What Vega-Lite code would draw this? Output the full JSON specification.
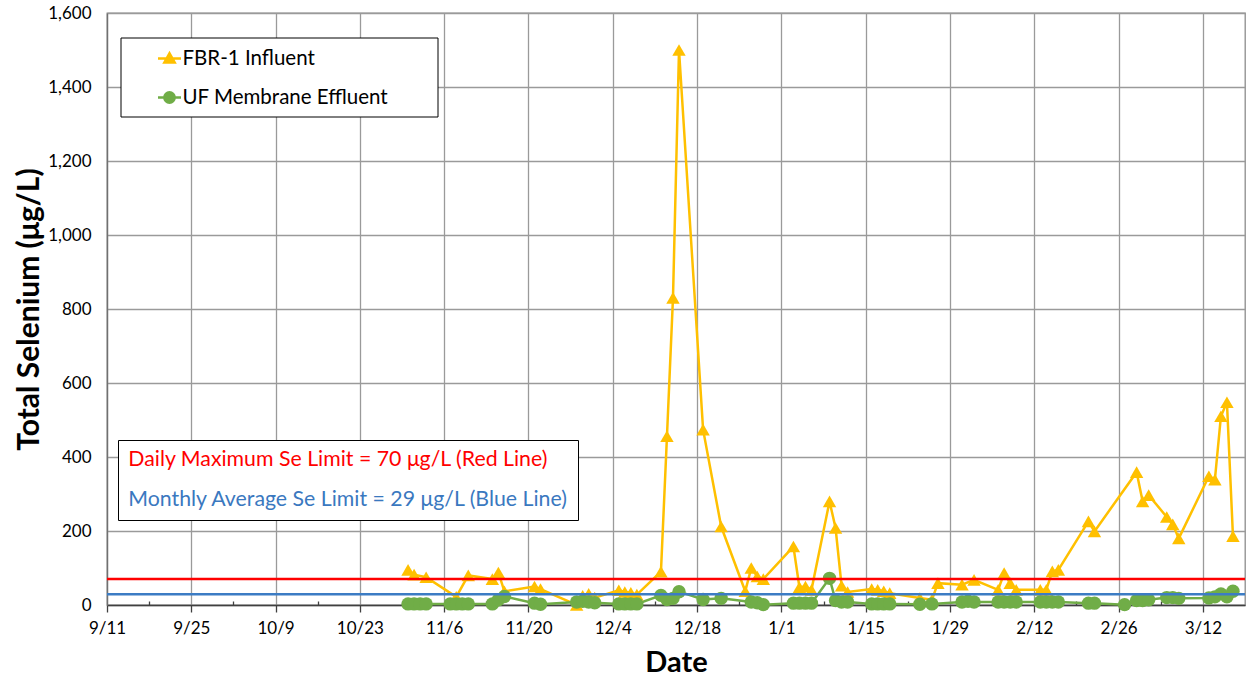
{
  "$schema": "https://vega.github.io/schema/vega-lite/v6.json",
  "width": 1138,
  "height": 592,
  "autosize": {"type": "none"},
  "padding": {"left": 107, "top": 13, "right": 2, "bottom": 72},
  "background": "white",
  "config": {
    "font": "Lato",
    "view": {"stroke": "#8c8c8c", "strokeWidth": 1.3},
    "legend": {"labelFont": "Lato"}
  },
  "datasets": {
    "se": [
      {"Series": "FBR-1 Influent", "Date": "2012-10-31", "Se": 95},
      {"Series": "FBR-1 Influent", "Date": "2012-11-01", "Se": 82},
      {"Series": "FBR-1 Influent", "Date": "2012-11-03", "Se": 75},
      {"Series": "FBR-1 Influent", "Date": "2012-11-08", "Se": 22},
      {"Series": "FBR-1 Influent", "Date": "2012-11-10", "Se": 80},
      {"Series": "FBR-1 Influent", "Date": "2012-11-14", "Se": 70},
      {"Series": "FBR-1 Influent", "Date": "2012-11-15", "Se": 88},
      {"Series": "FBR-1 Influent", "Date": "2012-11-16", "Se": 37},
      {"Series": "FBR-1 Influent", "Date": "2012-11-21", "Se": 50},
      {"Series": "FBR-1 Influent", "Date": "2012-11-22", "Se": 43},
      {"Series": "FBR-1 Influent", "Date": "2012-11-28", "Se": 0},
      {"Series": "FBR-1 Influent", "Date": "2012-11-29", "Se": 25},
      {"Series": "FBR-1 Influent", "Date": "2012-11-30", "Se": 30},
      {"Series": "FBR-1 Influent", "Date": "2012-12-01", "Se": 20},
      {"Series": "FBR-1 Influent", "Date": "2012-12-05", "Se": 40},
      {"Series": "FBR-1 Influent", "Date": "2012-12-06", "Se": 35},
      {"Series": "FBR-1 Influent", "Date": "2012-12-07", "Se": 33},
      {"Series": "FBR-1 Influent", "Date": "2012-12-08", "Se": 28},
      {"Series": "FBR-1 Influent", "Date": "2012-12-12", "Se": 90},
      {"Series": "FBR-1 Influent", "Date": "2012-12-13", "Se": 456},
      {"Series": "FBR-1 Influent", "Date": "2012-12-14", "Se": 830},
      {"Series": "FBR-1 Influent", "Date": "2012-12-15", "Se": 1500},
      {"Series": "FBR-1 Influent", "Date": "2012-12-19", "Se": 474},
      {"Series": "FBR-1 Influent", "Date": "2012-12-22", "Se": 212},
      {"Series": "FBR-1 Influent", "Date": "2012-12-26", "Se": 37},
      {"Series": "FBR-1 Influent", "Date": "2012-12-27", "Se": 100},
      {"Series": "FBR-1 Influent", "Date": "2012-12-28", "Se": 77},
      {"Series": "FBR-1 Influent", "Date": "2012-12-29", "Se": 70},
      {"Series": "FBR-1 Influent", "Date": "2013-01-03", "Se": 158},
      {"Series": "FBR-1 Influent", "Date": "2013-01-04", "Se": 48},
      {"Series": "FBR-1 Influent", "Date": "2013-01-05", "Se": 50},
      {"Series": "FBR-1 Influent", "Date": "2013-01-06", "Se": 41},
      {"Series": "FBR-1 Influent", "Date": "2013-01-09", "Se": 280},
      {"Series": "FBR-1 Influent", "Date": "2013-01-10", "Se": 208},
      {"Series": "FBR-1 Influent", "Date": "2013-01-11", "Se": 52},
      {"Series": "FBR-1 Influent", "Date": "2013-01-12", "Se": 35},
      {"Series": "FBR-1 Influent", "Date": "2013-01-16", "Se": 43},
      {"Series": "FBR-1 Influent", "Date": "2013-01-17", "Se": 41},
      {"Series": "FBR-1 Influent", "Date": "2013-01-18", "Se": 37},
      {"Series": "FBR-1 Influent", "Date": "2013-01-19", "Se": 32},
      {"Series": "FBR-1 Influent", "Date": "2013-01-24", "Se": 19},
      {"Series": "FBR-1 Influent", "Date": "2013-01-26", "Se": 14},
      {"Series": "FBR-1 Influent", "Date": "2013-01-27", "Se": 59},
      {"Series": "FBR-1 Influent", "Date": "2013-01-31", "Se": 55},
      {"Series": "FBR-1 Influent", "Date": "2013-02-02", "Se": 68},
      {"Series": "FBR-1 Influent", "Date": "2013-02-06", "Se": 41},
      {"Series": "FBR-1 Influent", "Date": "2013-02-07", "Se": 86},
      {"Series": "FBR-1 Influent", "Date": "2013-02-08", "Se": 59},
      {"Series": "FBR-1 Influent", "Date": "2013-02-09", "Se": 41},
      {"Series": "FBR-1 Influent", "Date": "2013-02-13", "Se": 41},
      {"Series": "FBR-1 Influent", "Date": "2013-02-14", "Se": 41},
      {"Series": "FBR-1 Influent", "Date": "2013-02-15", "Se": 91},
      {"Series": "FBR-1 Influent", "Date": "2013-02-16", "Se": 95},
      {"Series": "FBR-1 Influent", "Date": "2013-02-21", "Se": 226},
      {"Series": "FBR-1 Influent", "Date": "2013-02-22", "Se": 199},
      {"Series": "FBR-1 Influent", "Date": "2013-03-01", "Se": 359},
      {"Series": "FBR-1 Influent", "Date": "2013-03-02", "Se": 280},
      {"Series": "FBR-1 Influent", "Date": "2013-03-03", "Se": 297},
      {"Series": "FBR-1 Influent", "Date": "2013-03-06", "Se": 238},
      {"Series": "FBR-1 Influent", "Date": "2013-03-07", "Se": 218},
      {"Series": "FBR-1 Influent", "Date": "2013-03-08", "Se": 180},
      {"Series": "FBR-1 Influent", "Date": "2013-03-13", "Se": 348},
      {"Series": "FBR-1 Influent", "Date": "2013-03-14", "Se": 339},
      {"Series": "FBR-1 Influent", "Date": "2013-03-15", "Se": 510},
      {"Series": "FBR-1 Influent", "Date": "2013-03-16", "Se": 548},
      {"Series": "FBR-1 Influent", "Date": "2013-03-17", "Se": 186},
      {"Series": "UF Membrane Effluent", "Date": "2012-10-31", "Se": 3},
      {"Series": "UF Membrane Effluent", "Date": "2012-11-01", "Se": 3},
      {"Series": "UF Membrane Effluent", "Date": "2012-11-02", "Se": 3},
      {"Series": "UF Membrane Effluent", "Date": "2012-11-03", "Se": 3},
      {"Series": "UF Membrane Effluent", "Date": "2012-11-07", "Se": 3},
      {"Series": "UF Membrane Effluent", "Date": "2012-11-08", "Se": 3},
      {"Series": "UF Membrane Effluent", "Date": "2012-11-09", "Se": 3},
      {"Series": "UF Membrane Effluent", "Date": "2012-11-10", "Se": 3},
      {"Series": "UF Membrane Effluent", "Date": "2012-11-14", "Se": 3},
      {"Series": "UF Membrane Effluent", "Date": "2012-11-15", "Se": 14},
      {"Series": "UF Membrane Effluent", "Date": "2012-11-16", "Se": 23},
      {"Series": "UF Membrane Effluent", "Date": "2012-11-21", "Se": 5},
      {"Series": "UF Membrane Effluent", "Date": "2012-11-22", "Se": 2},
      {"Series": "UF Membrane Effluent", "Date": "2012-11-28", "Se": 8},
      {"Series": "UF Membrane Effluent", "Date": "2012-11-29", "Se": 10},
      {"Series": "UF Membrane Effluent", "Date": "2012-11-30", "Se": 8},
      {"Series": "UF Membrane Effluent", "Date": "2012-12-01", "Se": 6},
      {"Series": "UF Membrane Effluent", "Date": "2012-12-05", "Se": 3},
      {"Series": "UF Membrane Effluent", "Date": "2012-12-06", "Se": 3},
      {"Series": "UF Membrane Effluent", "Date": "2012-12-07", "Se": 3},
      {"Series": "UF Membrane Effluent", "Date": "2012-12-08", "Se": 3},
      {"Series": "UF Membrane Effluent", "Date": "2012-12-12", "Se": 26},
      {"Series": "UF Membrane Effluent", "Date": "2012-12-13", "Se": 15},
      {"Series": "UF Membrane Effluent", "Date": "2012-12-14", "Se": 18},
      {"Series": "UF Membrane Effluent", "Date": "2012-12-15", "Se": 36},
      {"Series": "UF Membrane Effluent", "Date": "2012-12-19", "Se": 15},
      {"Series": "UF Membrane Effluent", "Date": "2012-12-22", "Se": 18},
      {"Series": "UF Membrane Effluent", "Date": "2012-12-27", "Se": 8},
      {"Series": "UF Membrane Effluent", "Date": "2012-12-28", "Se": 6},
      {"Series": "UF Membrane Effluent", "Date": "2012-12-29", "Se": 1},
      {"Series": "UF Membrane Effluent", "Date": "2013-01-03", "Se": 5},
      {"Series": "UF Membrane Effluent", "Date": "2013-01-04", "Se": 5},
      {"Series": "UF Membrane Effluent", "Date": "2013-01-05", "Se": 5},
      {"Series": "UF Membrane Effluent", "Date": "2013-01-06", "Se": 5},
      {"Series": "UF Membrane Effluent", "Date": "2013-01-09", "Se": 72},
      {"Series": "UF Membrane Effluent", "Date": "2013-01-10", "Se": 12},
      {"Series": "UF Membrane Effluent", "Date": "2013-01-11", "Se": 8},
      {"Series": "UF Membrane Effluent", "Date": "2013-01-12", "Se": 8},
      {"Series": "UF Membrane Effluent", "Date": "2013-01-16", "Se": 3},
      {"Series": "UF Membrane Effluent", "Date": "2013-01-17", "Se": 3},
      {"Series": "UF Membrane Effluent", "Date": "2013-01-18", "Se": 3},
      {"Series": "UF Membrane Effluent", "Date": "2013-01-19", "Se": 3},
      {"Series": "UF Membrane Effluent", "Date": "2013-01-24", "Se": 2},
      {"Series": "UF Membrane Effluent", "Date": "2013-01-26", "Se": 3},
      {"Series": "UF Membrane Effluent", "Date": "2013-01-31", "Se": 8},
      {"Series": "UF Membrane Effluent", "Date": "2013-02-01", "Se": 10},
      {"Series": "UF Membrane Effluent", "Date": "2013-02-02", "Se": 8},
      {"Series": "UF Membrane Effluent", "Date": "2013-02-06", "Se": 8},
      {"Series": "UF Membrane Effluent", "Date": "2013-02-07", "Se": 8},
      {"Series": "UF Membrane Effluent", "Date": "2013-02-08", "Se": 8},
      {"Series": "UF Membrane Effluent", "Date": "2013-02-09", "Se": 8},
      {"Series": "UF Membrane Effluent", "Date": "2013-02-13", "Se": 8},
      {"Series": "UF Membrane Effluent", "Date": "2013-02-14", "Se": 8},
      {"Series": "UF Membrane Effluent", "Date": "2013-02-15", "Se": 8},
      {"Series": "UF Membrane Effluent", "Date": "2013-02-16", "Se": 8},
      {"Series": "UF Membrane Effluent", "Date": "2013-02-21", "Se": 5},
      {"Series": "UF Membrane Effluent", "Date": "2013-02-22", "Se": 5},
      {"Series": "UF Membrane Effluent", "Date": "2013-02-27", "Se": 1},
      {"Series": "UF Membrane Effluent", "Date": "2013-03-01", "Se": 12},
      {"Series": "UF Membrane Effluent", "Date": "2013-03-02", "Se": 12},
      {"Series": "UF Membrane Effluent", "Date": "2013-03-03", "Se": 14},
      {"Series": "UF Membrane Effluent", "Date": "2013-03-06", "Se": 20},
      {"Series": "UF Membrane Effluent", "Date": "2013-03-07", "Se": 20},
      {"Series": "UF Membrane Effluent", "Date": "2013-03-08", "Se": 18},
      {"Series": "UF Membrane Effluent", "Date": "2013-03-13", "Se": 19},
      {"Series": "UF Membrane Effluent", "Date": "2013-03-14", "Se": 22},
      {"Series": "UF Membrane Effluent", "Date": "2013-03-15", "Se": 30},
      {"Series": "UF Membrane Effluent", "Date": "2013-03-16", "Se": 22},
      {"Series": "UF Membrane Effluent", "Date": "2013-03-17", "Se": 37}
    ],
    "limits": [
      {"Limit": "Daily Maximum Se Limit = 70 μg/L (Red Line)", "Se": 70},
      {"Limit": "Monthly Average Se Limit = 29 μg/L (Blue Line)", "Se": 29}
    ]
  },
  "encoding": {
    "y": {
      "field": "Se",
      "type": "quantitative",
      "scale": {"domain": [0, 1600], "nice": false},
      "axis": {
        "values": [0, 200, 400, 600, 800, 1000, 1200, 1400, 1600],
        "format": ",d",
        "labelFont": "Lato",
        "labelFontSize": 17,
        "labelColor": "#000",
        "labelPadding": 16,
        "ticks": false,
        "domainColor": "#707070",
        "domainWidth": 1.3,
        "grid": true,
        "gridColor": "#9a9a9a",
        "gridWidth": 1.3,
        "title": "Total Selenium (μg/L)",
        "titleFont": "Lato",
        "titleFontSize": 30,
        "titleFontWeight": "bold",
        "titleColor": "#000",
        "titlePadding": 3
      }
    }
  },
  "layer": [
    {
      "data": {"name": "se"},
      "encoding": {
        "x": {
          "field": "Date",
          "type": "temporal",
          "scale": {
            "type": "utc",
            "domain": [
              {"year": 2012, "month": 9, "date": 11, "utc": true},
              {"year": 2013, "month": 3, "date": 19, "utc": true}
            ],
            "nice": false
          },
          "axis": {
            "values": [
              {"year": 2012, "month": 9, "date": 11, "utc": true},
              {"year": 2012, "month": 9, "date": 18, "utc": true},
              {"year": 2012, "month": 9, "date": 25, "utc": true},
              {"year": 2012, "month": 10, "date": 2, "utc": true},
              {"year": 2012, "month": 10, "date": 9, "utc": true},
              {"year": 2012, "month": 10, "date": 16, "utc": true},
              {"year": 2012, "month": 10, "date": 23, "utc": true},
              {"year": 2012, "month": 10, "date": 30, "utc": true},
              {"year": 2012, "month": 11, "date": 6, "utc": true},
              {"year": 2012, "month": 11, "date": 13, "utc": true},
              {"year": 2012, "month": 11, "date": 20, "utc": true},
              {"year": 2012, "month": 11, "date": 27, "utc": true},
              {"year": 2012, "month": 12, "date": 4, "utc": true},
              {"year": 2012, "month": 12, "date": 11, "utc": true},
              {"year": 2012, "month": 12, "date": 18, "utc": true},
              {"year": 2012, "month": 12, "date": 25, "utc": true},
              {"year": 2013, "month": 1, "date": 1, "utc": true},
              {"year": 2013, "month": 1, "date": 8, "utc": true},
              {"year": 2013, "month": 1, "date": 15, "utc": true},
              {"year": 2013, "month": 1, "date": 22, "utc": true},
              {"year": 2013, "month": 1, "date": 29, "utc": true},
              {"year": 2013, "month": 2, "date": 5, "utc": true},
              {"year": 2013, "month": 2, "date": 12, "utc": true},
              {"year": 2013, "month": 2, "date": 19, "utc": true},
              {"year": 2013, "month": 2, "date": 26, "utc": true},
              {"year": 2013, "month": 3, "date": 5, "utc": true},
              {"year": 2013, "month": 3, "date": 12, "utc": true}
            ],
            "format": "%-m/%-d",
            "labelExpr": "round((datum.value - 1347321600000) / 86400000) % 14 === 7 ? '' : datum.label",
            "labelFont": "Lato",
            "labelFontSize": 17,
            "labelColor": "#000",
            "labelPadding": 8,
            "labelOverlap": false,
            "labelFlush": false,
            "tickSize": {"condition": {"test": "round((datum.value - 1347321600000) / 86400000) % 14 === 7", "value": -4}, "value": 7},
            "tickColor": "#404040",
            "tickWidth": 1.3,
            "domainColor": "#404040",
            "domainWidth": 1.5,
            "grid": true,
            "gridColor": "#9a9a9a",
            "gridOpacity": {"condition": {"test": "round((datum.value - 1347321600000) / 86400000) % 14 === 7", "value": 0}, "value": 1},
            "gridWidth": 1.3,
            "title": "Date",
            "titleFont": "Lato",
            "titleFontSize": 29,
            "titleFontWeight": "bold",
            "titleColor": "#000",
            "titlePadding": 12
          }
        }
      },
      "layer": [
        {
          "transform": [{"filter": "datum.Series === 'FBR-1 Influent'"}],
          "mark": {"type": "line", "color": "#FFC000", "strokeWidth": 2.5}
        },
        {
          "transform": [{"filter": "datum.Series === 'UF Membrane Effluent'"}],
          "mark": {"type": "line", "color": "#70AD47", "strokeWidth": 2.5}
        },
        {
          "mark": {"type": "point", "filled": true, "opacity": 1, "size": 180},
          "encoding": {
            "shape": {
              "field": "Series",
              "type": "nominal",
              "scale": {"domain": ["FBR-1 Influent", "UF Membrane Effluent"], "range": ["triangle-up", "circle"]},
              "legend": null
            },
            "color": {
              "field": "Series",
              "type": "nominal",
              "scale": {"domain": ["FBR-1 Influent", "UF Membrane Effluent"], "range": ["#FFC000", "#70AD47"]},
              "legend": null
            }
          }
        },
        {
          "mark": {"type": "point", "filled": true, "opacity": 0, "size": 170},
          "encoding": {
            "color": {
              "field": "Series",
              "type": "nominal",
              "scale": {"domain": ["FBR-1 Influent", "UF Membrane Effluent"], "range": ["#FFC000", "#70AD47"]},
              "legend": {
                "title": "I", "titleOrient": "right", "titleColor": "#ffffff", "titleFontSize": 8, "titlePadding": 38,
                "orient": "none", "direction": "vertical", "legendX": 13.5, "legendY": 24.5,
                "padding": 8, "fillColor": "#ffffff", "strokeColor": "#000000",
                "labelFont": "Lato", "labelFontSize": 20.5, "labelColor": "#000", "labelLimit": 500,
                "rowPadding": 15, "symbolSize": 529, "symbolStrokeWidth": 2.5, "symbolOffset": 28, "labelOffset": 0, "symbolOpacity": 1,
                "encode": {
                  "symbols": {
                    "update": {
                      "stroke": {"signal": "datum.value === 'FBR-1 Influent' ? '#FFC000' : '#70AD47'"},
                      "strokeWidth": {"value": 2.5}
                    }
                  }
                }
              }
            },
            "shape": {
              "field": "Series",
              "type": "nominal",
              "scale": {
                "domain": ["FBR-1 Influent", "UF Membrane Effluent"],
                "range": ["M-1,0H1M-0.45,0.35L0,-0.45L0.45,0.35Z", "M-1,0H1M0.45,0A0.45,0.45 0 1,1 -0.45,0A0.45,0.45 0 1,1 0.45,0Z"]
              },
              "legend": {
                "title": "I", "titleOrient": "right", "titleColor": "#ffffff", "titleFontSize": 8, "titlePadding": 38,
                "orient": "none", "direction": "vertical", "legendX": 13.5, "legendY": 24.5,
                "padding": 8, "fillColor": "#ffffff", "strokeColor": "#000000",
                "labelFont": "Lato", "labelFontSize": 20.5, "labelColor": "#000", "labelLimit": 500,
                "rowPadding": 15, "symbolSize": 529, "symbolStrokeWidth": 2.5, "symbolOffset": 28, "labelOffset": 0, "symbolOpacity": 1,
                "encode": {
                  "symbols": {
                    "update": {
                      "stroke": {"signal": "datum.value === 'FBR-1 Influent' ? '#FFC000' : '#70AD47'"},
                      "strokeWidth": {"value": 2.5}
                    }
                  }
                }
              }
            }
          }
        }
      ],
      "resolve": {"scale": {"color": "independent", "shape": "independent"}}
    },
    {
      "data": {"name": "limits"},
      "mark": {"type": "rule", "strokeWidth": 2.5},
      "encoding": {
        "color": {
          "field": "Limit",
          "type": "nominal",
          "scale": {
            "domain": ["Daily Maximum Se Limit = 70 μg/L (Red Line)", "Monthly Average Se Limit = 29 μg/L (Blue Line)"],
            "range": ["#FF0000", "#3C7CC4"]
          },
          "legend": {
            "title": null,
            "orient": "none",
            "direction": "vertical",
            "legendX": 11,
            "legendY": 427,
            "padding": 9,
            "fillColor": "#ffffff",
            "strokeColor": "#000000",
            "labelFont": "Lato",
            "labelFontSize": 21.3,
            "labelLimit": 700,
            "rowPadding": 18.7,
            "symbolSize": 0,
            "symbolOpacity": 0,
            "symbolStrokeWidth": 0,
            "labelOffset": -20,
            "encode": {
              "labels": {
                "update": {
                  "fill": {"signal": "indexof(datum.value, 'Daily') === 0 ? '#FF0000' : '#3A78BF'"}
                }
              }
            }
          }
        }
      }
    }
  ],
  "resolve": {"scale": {"color": "independent"}}
}
